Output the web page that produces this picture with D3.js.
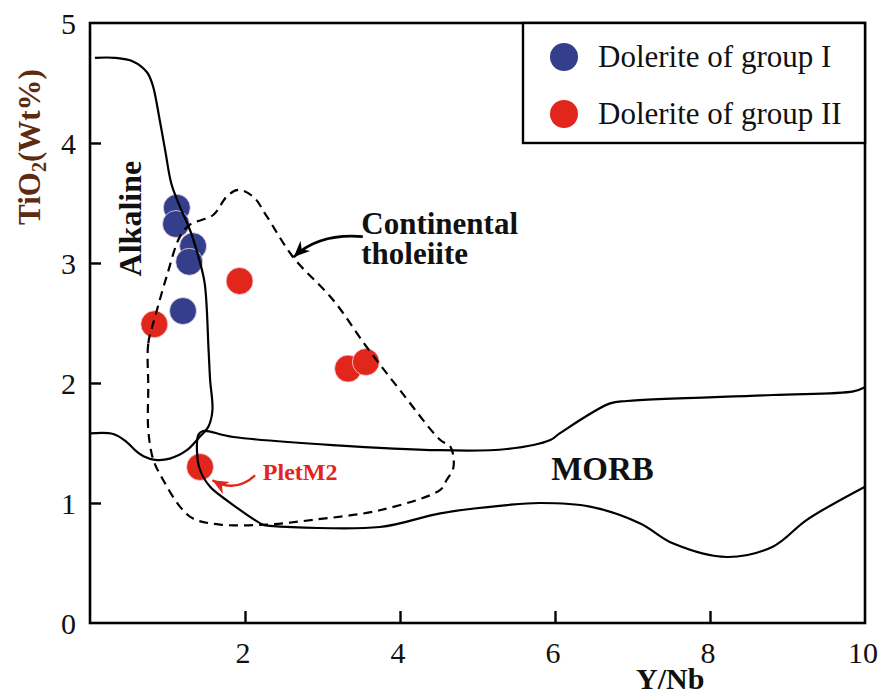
<!DOCTYPE html>
<html><head><meta charset="utf-8">
<script src="https://cdn.jsdelivr.net/npm/d3@7"></script>
<style>html,body{margin:0;padding:0;background:#fff;} svg{display:block}</style>
</head><body>
<svg id="chart" width="891" height="695"></svg>
<script>
// ---------- data ----------
const xTickValues = [2, 4, 6, 8];
const xTickLabels = [2, 4, 6, 8, 10];
const yTickValues = [1, 2, 3, 4];
const yTickLabels = [0, 1, 2, 3, 4, 5];

const seriesNames = ["Dolerite of group I", "Dolerite of group II"];
const seriesColors = ["#333f8a", "#e1261c"];

const groupIX = [1.12, 1.11, 1.33, 1.28, 1.20];
const groupIY = [3.46, 3.325, 3.14, 3.01, 2.60];
const groupIIX = [1.93, 0.83, 3.33, 3.56, 1.42];
const groupIIY = [2.85, 2.49, 2.12, 2.175, 1.30];

// Alkaline boundary (continuous with the lower-left MORB limb)
const alkalineX = [0.065, 0.32, 0.555, 0.735, 0.81, 0.90, 0.97, 1.05, 1.16, 1.29, 1.40, 1.48, 1.53, 1.55, 1.58, 1.53, 1.40, 1.25, 1.03, 0.84, 0.69, 0.60, 0.47, 0.30, 0.0];
const alkalineY = [4.71, 4.71, 4.68, 4.59, 4.48, 4.19, 3.94, 3.66, 3.47, 3.275, 3.05, 2.83, 2.275, 2.025, 1.775, 1.64, 1.54, 1.44, 1.37, 1.36, 1.39, 1.43, 1.51, 1.575, 1.58];

// MORB field boundary
const morbX = [10, 9.85, 8.81, 6.93, 6.71, 6.06, 5.94, 5.38, 4.52, 1.85, 1.46, 1.40, 1.38, 1.42, 1.55, 1.76, 2.24, 2.32, 3.74, 4.52, 5.38, 5.81, 6.45, 7.10, 7.52, 8.22, 8.81, 9.25, 10];
const morbY = [1.964, 1.93, 1.90, 1.85, 1.83, 1.58, 1.525, 1.45, 1.44, 1.55, 1.60, 1.57, 1.44, 1.275, 1.135, 1.025, 0.817, 0.81, 0.80, 0.914, 0.983, 1.0, 0.97, 0.83, 0.664, 0.55, 0.636, 0.86, 1.136];

// Continental tholeiite field (dashed, closed)
const tholX = [0.752, 0.752, 0.839, 0.99, 1.16, 1.29, 1.59, 1.76, 1.91, 2.11, 2.28, 2.62, 3.14, 3.57, 4.0, 4.52, 4.65, 4.69, 4.60, 4.52, 3.74, 2.88, 2.28, 1.68, 1.33, 1.16, 0.946, 0.817, 0.752];
const tholY = [1.97, 2.33, 2.55, 2.89, 3.22, 3.32, 3.40, 3.55, 3.61, 3.55, 3.39, 3.05, 2.69, 2.30, 1.94, 1.525, 1.47, 1.30, 1.19, 1.11, 0.94, 0.86, 0.82, 0.82, 0.87, 0.97, 1.19, 1.36, 1.61];

// ---------- chart ----------
const svg = d3.select("#chart");
const x = d3.scaleLinear().domain([0, 10]).range([90, 865]);
const y = d3.scaleLinear().domain([0, 5]).range([623, 23]);
const serif = "'Liberation Serif','Times New Roman',Times,serif";

const toPts = (xs, ys) => xs.map((v, i) => [v, ys[i]]);

// points (drawn under the boundary lines)
const gPts = svg.append("g");
[[groupIX, groupIY, 0], [groupIIX, groupIIY, 1]].forEach(([xs, ys, k]) => {
  gPts.selectAll(null).data(toPts(xs, ys)).enter().append("circle")
    .attr("cx", d => x(d[0])).attr("cy", d => y(d[1])).attr("r", 13.5)
    .attr("fill", seriesColors[k]).attr("stroke", "#f3dbe6").attr("stroke-width", 0.8);
});

// boundary lines
const line = d3.line().x(d => x(d[0])).y(d => y(d[1])).curve(d3.curveCatmullRom.alpha(0.5));
const lineClosed = d3.line().x(d => x(d[0])).y(d => y(d[1])).curve(d3.curveCatmullRomClosed.alpha(0.5));

svg.append("path").attr("d", line(toPts(alkalineX, alkalineY)))
  .attr("fill", "none").attr("stroke", "#000").attr("stroke-width", 2.2);
svg.append("path").attr("d", line(toPts(morbX, morbY)))
  .attr("fill", "none").attr("stroke", "#000").attr("stroke-width", 2.2);
svg.append("path").attr("d", lineClosed(toPts(tholX, tholY)))
  .attr("fill", "none").attr("stroke", "#000").attr("stroke-width", 2.2)
  .attr("stroke-dasharray", "9,6");

// frame
svg.append("rect").attr("x", x(0)).attr("y", y(5))
  .attr("width", x(10) - x(0)).attr("height", y(0) - y(5))
  .attr("fill", "none").attr("stroke", "#000").attr("stroke-width", 2.6);

// ticks (inward)
svg.append("g").attr("transform", `translate(0,${y(0)})`)
  .call(d3.axisBottom(x).tickValues(xTickValues).tickSize(-12).tickFormat(""))
  .call(g => g.select(".domain").remove())
  .selectAll("line").attr("stroke", "#000").attr("stroke-width", 2.4);
svg.append("g").attr("transform", `translate(${x(0)},0)`)
  .call(d3.axisLeft(y).tickValues(yTickValues).tickSize(-11).tickFormat(""))
  .call(g => g.select(".domain").remove())
  .selectAll("line").attr("stroke", "#000").attr("stroke-width", 2.4);

// tick labels
svg.append("g").selectAll("text").data(xTickLabels).enter().append("text")
  .attr("x", d => x(d) - 2).attr("y", y(0) + 40)
  .attr("text-anchor", "middle").attr("font-family", serif).attr("font-size", 30)
  .attr("fill", "#111").text(d => d);
svg.append("g").selectAll("text").data(yTickLabels).enter().append("text")
  .attr("x", 76).attr("y", d => y(d) + 11)
  .attr("text-anchor", "end").attr("font-family", serif).attr("font-size", 30)
  .attr("fill", "#111").text(d => d);

// axis titles
svg.append("text").attr("x", 636).attr("y", 689)
  .attr("font-family", serif).attr("font-weight", "bold").attr("font-size", 30)
  .attr("fill", "#111").text("Y/Nb");
const yt = svg.append("text").attr("transform", "translate(40,147) rotate(-90)")
  .attr("text-anchor", "middle").attr("font-family", serif).attr("font-weight", "bold")
  .attr("font-size", 31).attr("fill", "#5e2a10");
yt.append("tspan").text("TiO");
yt.append("tspan").attr("font-size", 20).attr("dy", 6).text("2");
yt.append("tspan").attr("dy", -6).text("(Wt%)");

// field labels
svg.append("text").attr("transform", `translate(${x(0.66)},${y(3.37)}) rotate(-90)`)
  .attr("text-anchor", "middle").attr("font-family", serif).attr("font-weight", "bold")
  .attr("font-size", 32).attr("fill", "#111").text("Alkaline");
svg.append("text").attr("x", x(3.5)).attr("y", y(3.24))
  .attr("font-family", serif).attr("font-weight", "bold").attr("font-size", 31)
  .attr("fill", "#111").text("Continental");
svg.append("text").attr("x", x(3.5)).attr("y", y(2.99))
  .attr("font-family", serif).attr("font-weight", "bold").attr("font-size", 31)
  .attr("fill", "#111").text("tholeiite");
svg.append("text").attr("x", x(5.95)).attr("y", y(1.19))
  .attr("font-family", serif).attr("font-weight", "bold").attr("font-size", 33)
  .attr("fill", "#111").text("MORB");
svg.append("text").attr("x", x(2.23)).attr("y", y(1.19))
  .attr("font-family", serif).attr("font-weight", "bold").attr("font-size", 24)
  .attr("fill", seriesColors[1]).text("PletM2");

// arrow markers
const defs = svg.append("defs");
[["arrBlack", "#000"], ["arrRed", seriesColors[1]]].forEach(([id, c]) => {
  defs.append("marker").attr("id", id).attr("viewBox", "-16 -8 18 16")
    .attr("refX", 0).attr("refY", 0).attr("markerWidth", 18).attr("markerHeight", 16)
    .attr("markerUnits", "userSpaceOnUse").attr("orient", "auto")
    .append("path").attr("d", "M0,0 L-16,-7 L-11,0 L-16,7 Z").attr("fill", c);
});
const arrowPath = (p0, c, p1) => `M${x(p0[0])},${y(p0[1])} Q${x(c[0])},${y(c[1])} ${x(p1[0])},${y(p1[1])}`;
svg.append("path").attr("d", arrowPath([3.52, 3.22], [2.95, 3.25], [2.63, 3.05]))
  .attr("fill", "none").attr("stroke", "#000").attr("stroke-width", 2.6)
  .attr("marker-end", "url(#arrBlack)");
svg.append("path").attr("d", arrowPath([2.13, 1.23], [1.88, 1.08], [1.58, 1.19]))
  .attr("fill", "none").attr("stroke", seriesColors[1]).attr("stroke-width", 2.4)
  .attr("marker-end", "url(#arrRed)");

// legend
const lg = svg.append("g");
lg.append("rect").attr("x", 523).attr("y", y(5)).attr("width", x(10) - 523).attr("height", 120)
  .attr("fill", "#fff").attr("stroke", "#000").attr("stroke-width", 2.4);
seriesNames.forEach((name, i) => {
  lg.append("circle").attr("cx", 564).attr("cy", 57 + i * 57).attr("r", 14).attr("fill", seriesColors[i]);
  lg.append("text").attr("x", 598).attr("y", 57 + i * 57 + 10)
    .attr("font-family", serif).attr("font-size", 31).attr("fill", "#111").text(name);
});
</script>
</body></html>
